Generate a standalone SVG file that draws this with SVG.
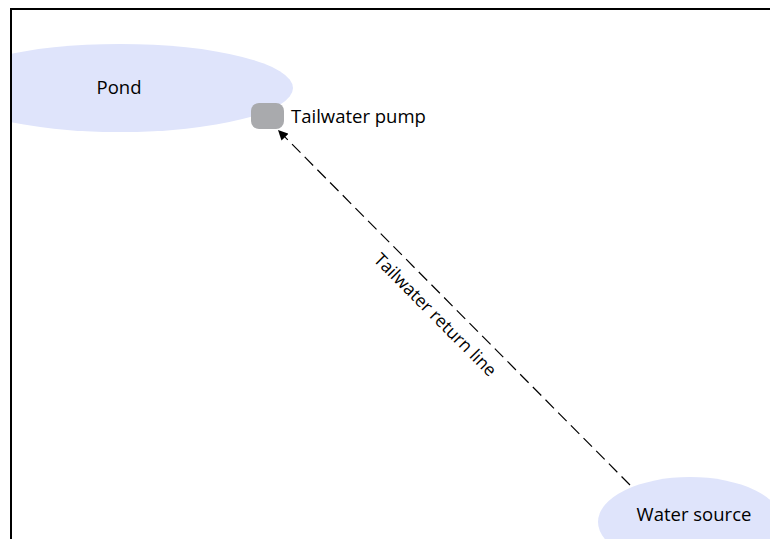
<svg xmlns="http://www.w3.org/2000/svg" width="770" height="539" viewBox="0 0 770 539">
<defs>
<style>
.lbl{font-family:"Open Sans","Liberation Sans",sans-serif;font-size:18.5px;fill:#000}
.rot{font-size:17.5px}
.water{fill:#dfe4fb}
</style>
<marker id="arr" viewBox="0 0 10 10" refX="10" refY="5" markerWidth="10" markerHeight="10" markerUnits="userSpaceOnUse" orient="auto">
<path d="M0,0 L10,5 L0,10 z" fill="#000"/>
</marker>
<clipPath id="frame"><rect x="10" y="9" width="770" height="540"/></clipPath>
</defs>
<rect x="0" y="0" width="770" height="539" fill="#fff"/>
<g clip-path="url(#frame)">
<g id="pond">
<ellipse class="water" cx="120" cy="88" rx="173" ry="44"/>
<text class="lbl" x="119" y="94" text-anchor="middle">Pond</text>
</g>
<g id="water-source">
<ellipse class="water" cx="690" cy="522" rx="92" ry="45"/>
<text class="lbl" x="694" y="521" text-anchor="middle">Water source</text>
</g>
</g>
<g id="pump">
<rect x="251" y="103" width="33" height="26" rx="8" fill="#a9aaad"/>
<text class="lbl" x="291" y="123">Tailwater pump</text>
</g>
<g id="connectors">
<line x1="630" y1="485" x2="278" y2="130" stroke="#000" stroke-width="1.2" stroke-dasharray="12,6" marker-end="url(#arr)"/>
<text class="lbl rot" transform="translate(431,319) rotate(45.2)" text-anchor="middle">Tailwater return line</text>
</g>
<path d="M11,539 V9 H770" fill="none" stroke="#000" stroke-width="2"/>
</svg>
